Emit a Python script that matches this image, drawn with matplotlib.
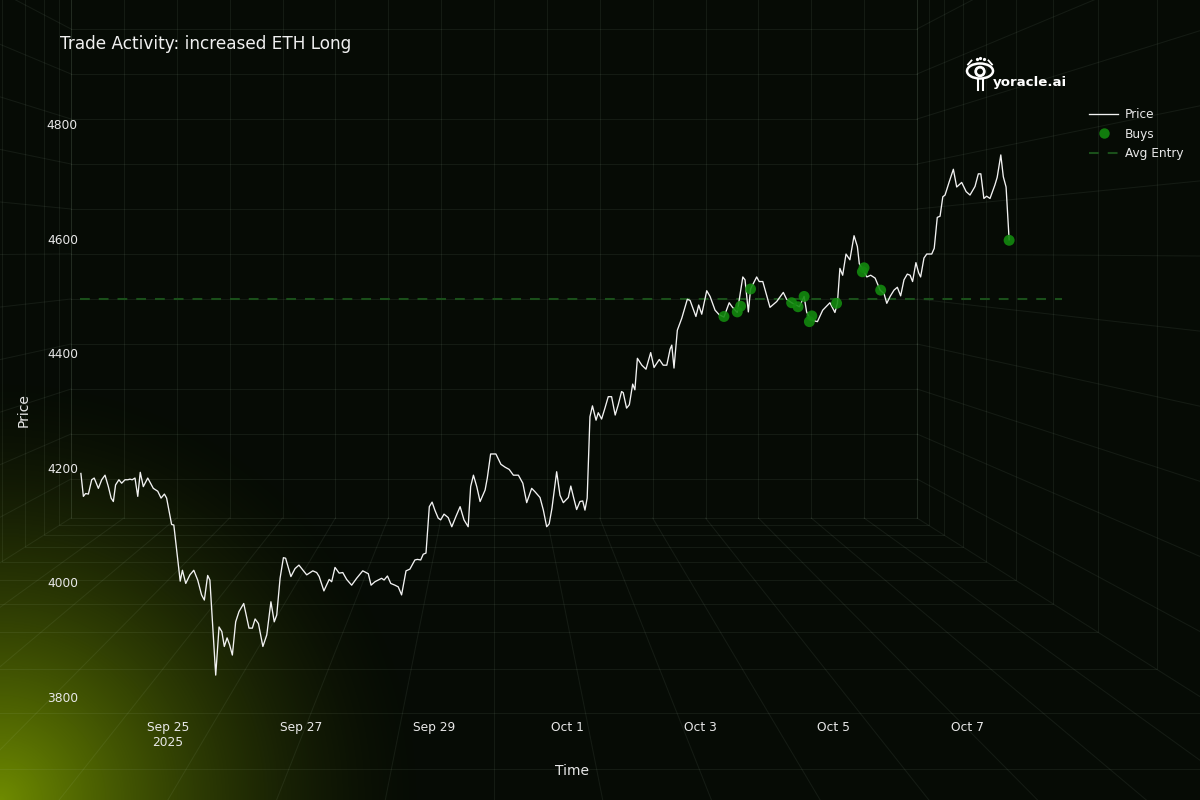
import numpy as np
import pandas as pd
import matplotlib
matplotlib.use('Agg')
import matplotlib.pyplot as plt
from matplotlib.patches import Ellipse, Circle
from matplotlib.lines import Line2D

# hours since 2025-09-25 00:00 and ETH price
hours = [
    -31.4, -30.5, -29.7, -28.7, -27.5, -26.6, -25.1, -23.9, -22.7, -21.5,
    -20.5, -19.7, -18.9, -17.7, -16.7, -15.5, -14.5, -13.7, -12.9, -11.9,
    -10.9, -10.0, -8.9, -7.3, -5.3, -3.7, -2.5, -1.3, -0.5, 1.3,
    2.1, 4.4, 5.2, 6.4, 7.9, 9.3, 10.7, 12.1, 13.1, 14.3,
    15.1, 17.2, 18.4, 19.4, 20.3, 21.3, 22.2, 23.2, 24.4, 25.6,
    27.3, 28.2, 29.2, 30.4, 31.4, 32.6, 34.2, 35.6, 37.1, 38.3,
    39.2, 40.4, 41.6, 42.4, 44.3, 45.8, 47.2,
    50.0, 52.2, 53.6, 54.5, 56.2, 58.1, 59.0, 60.2, 61.7, 63.0,
    64.4, 66.2, 68.0, 70.2, 72.2, 73.2, 74.6, 77.0, 77.9, 79.1,
    80.3, 81.8, 83.0, 84.2, 85.8, 87.2, 89.0, 89.9, 91.1, 92.0,
    93.0, 94.2, 95.2, 96.2, 97.4, 98.3, 99.5, 101.0, 102.3, 103.8,
    105.3, 106.7, 108.2, 109.1, 110.1, 111.3, 112.5, 114.3, 115.1, 116.3,
    118.2, 120.0, 121.5, 123.0, 124.5, 126.3, 127.9, 129.3, 131.1, 132.3,
    134.1, 135.3, 136.5, 137.4, 138.4, 140.1, 141.3, 142.5, 144.3, 145.2,
    146.1, 147.3, 148.5, 149.5, 150.3, 151.1, 152.1, 153.0, 154.3, 155.1,
    156.3, 157.5, 158.7, 159.9, 161.2, 162.3, 163.5, 164.1, 165.3, 166.3,
    167.5, 168.3, 169.2, 170.8, 172.3, 174.0, 175.2, 177.1, 178.5, 179.8,
    181.0, 181.6, 182.4, 183.6, 185.2, 187.2, 188.2, 190.3, 191.3, 192.4,
    194.2, 195.4, 197.2, 198.7, 200.4, 202.3, 203.5, 205.2, 207.2, 208.0,
    209.2, 210.0, 212.2, 213.1, 214.4, 217.0, 219.4, 221.8, 223.0, 224.8,
    227.6, 229.3, 230.2, 231.7, 234.1, 236.0, 238.6, 240.4, 241.3, 242.2,
    243.2, 244.4, 245.8, 247.3, 248.5, 249.2, 250.6, 251.9, 253.3, 254.9,
    256.7, 258.1, 259.1, 260.3, 261.7, 262.9, 264.1, 265.3, 266.5, 267.5,
    268.4, 269.6, 270.6, 271.3, 272.5, 273.5, 275.3, 276.2, 277.3, 278.3,
    279.3, 280.1, 281.6, 283.1, 284.3, 286.1, 287.7, 289.1, 290.9, 292.1,
    293.0, 294.1, 295.1, 296.3, 298.1, 298.9, 300.2, 301.1, 302.1, 303.2,
]
price = [
    4190, 4150, 4155, 4154, 4179, 4182, 4164, 4179, 4187, 4167,
    4147, 4141, 4170, 4179, 4173, 4179, 4179, 4180, 4179, 4182,
    4150, 4192, 4167, 4182, 4164, 4159, 4147, 4154, 4147, 4101,
    4100, 4002, 4021, 3998, 4013, 4021, 4004, 3978, 3969, 4012,
    4004, 3838, 3922, 3914, 3888, 3903, 3891, 3873, 3931, 3949,
    3963, 3943, 3920, 3920, 3936, 3928, 3888, 3908, 3966, 3931,
    3943, 4007, 4043, 4042, 4010, 4024, 4030,
    4013, 4020, 4017, 4010, 3985, 4005, 4001, 4026, 4016, 4017,
    4005, 3995, 4007, 4020, 4015, 3995, 4001, 4007, 4004, 4011,
    3998, 3995, 3992, 3978, 4020, 4023, 4039, 4040, 4039, 4049,
    4051, 4132, 4140, 4126, 4112, 4109, 4119, 4113, 4097, 4115,
    4132, 4109, 4097, 4167, 4187, 4167, 4141, 4161, 4182, 4224,
    4224, 4206, 4201, 4197, 4187, 4187, 4173, 4139, 4164, 4158,
    4148, 4126, 4097, 4102, 4129, 4193, 4152, 4139, 4148, 4168,
    4150, 4127, 4141, 4142, 4126, 4147, 4289, 4308, 4283, 4296,
    4285, 4304, 4324, 4324, 4292, 4310, 4333, 4331, 4304, 4310,
    4346, 4336, 4391, 4379, 4372, 4401, 4375, 4389, 4379, 4379,
    4407, 4414, 4374, 4440, 4461, 4494, 4492, 4464, 4484, 4468,
    4509, 4499, 4475, 4467, 4463, 4488, 4480, 4471, 4533, 4528,
    4472, 4512, 4533, 4525, 4525, 4480, 4490, 4506, 4494, 4488,
    4481, 4499, 4472, 4458, 4455, 4475, 4488, 4471, 4487, 4548,
    4536, 4573, 4563, 4605, 4586, 4556, 4545, 4533, 4536, 4531,
    4510, 4504, 4487, 4499, 4510, 4515, 4500, 4528, 4538, 4536,
    4525, 4558, 4540, 4533, 4566, 4573, 4573, 4583, 4637, 4639,
    4673, 4676, 4699, 4721, 4690, 4698, 4682, 4676, 4691, 4713,
    4713, 4670, 4674, 4670, 4694, 4707, 4746, 4708, 4690, 4598,
]

buy_hours = [200.4, 205.2, 206.4, 210.0, 224.8, 227.1, 229.3, 231.2, 232.1,
             241.0, 250.3, 250.9, 256.9, 303.2]
buy_prices = [4464, 4472, 4482, 4512, 4488, 4481, 4499, 4455, 4465,
              4487, 4542, 4549, 4510, 4597]
avg_entry = 4495

tick_dates = ['2025-09-25', '2025-09-27', '2025-09-29', '2025-10-01',
              '2025-10-03', '2025-10-05', '2025-10-07']
tick_labels = ['Sep 25\n2025', 'Sep 27', 'Sep 29', 'Oct 1', 'Oct 3', 'Oct 5', 'Oct 7']
y_ticks = [3800, 4000, 4200, 4400, 4600, 4800]

t0 = pd.Timestamp('2025-09-25')
times = (t0 + pd.to_timedelta(hours, unit='h')).to_numpy()
buy_times = (t0 + pd.to_timedelta(buy_hours, unit='h')).to_numpy()

BG = '#060b05'
GRID = (0.8, 0.9, 0.8, 0.075)
TXT = '#e8e8e8'

fig = plt.figure(figsize=(12, 8), dpi=100)
fig.patch.set_facecolor(BG)

# background: glow + perspective room grid (pixel coords)
bg = fig.add_axes([0, 0, 1, 1])
bg.set_xlim(0, 1200)
bg.set_ylim(800, 0)
bg.axis('off')

yy, xx = np.mgrid[0:800, 0:1200]
d = np.hypot(xx, 800 - yy) / 430.0
glow = np.zeros((800, 1200, 4))
glow[..., 0] = 0.46
glow[..., 1] = 0.58
glow[..., 3] = np.clip(1 - d, 0, 1) ** 1.6 * 0.95
bg.imshow(glow, extent=(0, 1200, 800, 0), zorder=0, aspect='auto')

vp = np.array([494.0, 251.0])
hw, hh = 423.0, 267.0
left, right, top, bottom = vp[0] - hw, vp[0] + hw, vp[1] - hh, vp[1] + hh
col_x = left + (right - left) / 16 * np.arange(17)
row_y = 29 + 45 * np.arange(11)

def seg(p, q):
    bg.plot([p[0], q[0]], [p[1], q[1]], color=GRID, lw=0.75, zorder=1)

for x in col_x:
    seg((x, top), (x, bottom))
for y in row_y:
    seg((left, y), (right, y))

for s in [1.0, 1.028, 1.064, 1.109, 1.163, 1.234, 1.322, 1.428, 1.567, 1.731, 1.94, 2.2, 2.55]:
    x0, x1 = vp[0] - hw * s, vp[0] + hw * s
    y0, y1 = vp[1] - hh * s, vp[1] + hh * s
    bg.plot([x0, x1, x1, x0, x0], [y0, y0, y1, y1, y0], color=GRID, lw=0.75, zorder=1)

edge_pts = [(x, bottom) for x in col_x] + [(x, top) for x in col_x] + \
           [(left, y) for y in row_y] + [(right, y) for y in row_y]
for p in edge_pts:
    p = np.array(p)
    seg(p, vp + 4 * (p - vp))

# logo
bg.add_patch(Ellipse((980, 71), 26, 15, fill=False, ec='white', lw=1.8, zorder=5))
bg.add_patch(Circle((980, 71.5), 5, color='white', zorder=6))
bg.add_patch(Circle((980, 71.5), 2.2, color=BG, zorder=7))
bg.plot([968, 971.5], [64.5, 60.5], color='white', lw=1.3, zorder=5)
bg.plot([992, 988.5], [64.5, 60.5], color='white', lw=1.3, zorder=5)
bg.plot([976.5, 980, 983.5], [58.5, 57.5, 58.5], 'o', color='white', ms=1.3, zorder=5)
bg.plot([977.5, 977.5], [80, 89.5], color='white', lw=1.5, zorder=5)
bg.plot([982.5, 982.5], [80, 89.5], color='white', lw=1.5, zorder=5)
fig.text(993 / 1200, 1 - 82.5 / 800, 'yoracle.ai', color='white', fontsize=9.6,
         fontweight='bold', ha='left', va='center')

# main chart
ax = fig.add_axes([80 / 1200, 88 / 800, 982 / 1200, 612 / 800])
ax.set_facecolor('none')
ax.patch.set_alpha(0)
ax.plot(times, price, color='#f2f2f2', lw=0.95, zorder=3)
ax.scatter(buy_times, buy_prices, s=62, color='#13890f', alpha=0.9,
           edgecolors='none', zorder=4)
ax.axhline(avg_entry, color='#1a4f1a', lw=1.5, ls=(0, (4.7, 4.3)), zorder=2)

ax.set_xlim(t0 + pd.Timedelta(hours=-31.72), t0 + pd.Timedelta(hours=322.26))
ax.set_ylim(3773.6, 4841.9)
ax.set_xticks(pd.to_datetime(tick_dates).to_numpy())
ax.set_xticklabels(tick_labels)
ax.set_yticks(y_ticks)
ax.set_yticklabels([str(v) for v in y_ticks])
ax.tick_params(axis='both', length=0, colors=TXT, labelsize=8.8)
ax.tick_params(axis='x', pad=6.5)
ax.tick_params(axis='y', pad=1.5)
for sp in ax.spines.values():
    sp.set_visible(False)

fig.text(60 / 1200, 1 - 44 / 800, 'Trade Activity: increased ETH Long',
         color='#f0f0f0', fontsize=12.2, ha='left', va='center')
fig.text(572 / 1200, 1 - 771 / 800, 'Time', color=TXT, fontsize=10,
         ha='center', va='center')
fig.text(24 / 1200, 1 - 410 / 800, 'Price', color=TXT, fontsize=10,
         ha='center', va='center', rotation=90)

handles = [
    Line2D([], [], color='#f2f2f2', lw=0.95),
    Line2D([], [], ls='none', marker='o', ms=7.5, color='#13890f', alpha=0.9, mec='none'),
    Line2D([], [], color='#1a4f1a', lw=1.5, ls=(0, (4.7, 4.3))),
]
fig.legend(handles, ['Price', 'Buys', 'Avg Entry'], loc='upper left',
           bbox_to_anchor=(1089 / 1200, 1 - 108 / 800), frameon=False,
           fontsize=8.7, labelcolor=TXT, handlelength=2.4, handletextpad=0.6,
           labelspacing=0.55, borderaxespad=0, borderpad=0)

fig.savefig('out.png', dpi=100, facecolor=BG)
